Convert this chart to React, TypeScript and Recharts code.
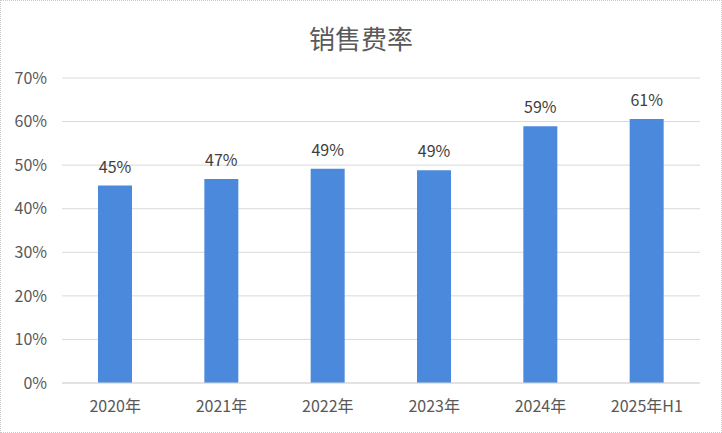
import { BarChart, Bar, XAxis, YAxis, CartesianGrid, LabelList } from "recharts";

const categories = ["2020年", "2021年", "2022年", "2023年", "2024年", "2025年H1"];
const salesExpenseRate = [45.3, 46.8, 49.2, 48.8, 58.9, 60.6];
const yTicks = [0, 10, 20, 30, 40, 50, 60, 70];

const data = categories.map((name, i) => ({ name, rate: salesExpenseRate[i] }));

const font = '"Noto Sans CJK SC", "Noto Sans", sans-serif';
const textColor = "#595959";

export default function App() {
  return (
    <div style={{ position: "fixed", left: 0, top: 0, width: 722, height: 433, background: "#fff", fontFamily: font }}>
      <div
        style={{
          position: "absolute",
          left: 0,
          top: 18,
          width: 722,
          textAlign: "center",
          fontSize: 26,
          lineHeight: "40px",
          color: textColor,
        }}
      >
        销售费率
      </div>
      <BarChart
        width={722}
        height={433}
        data={data}
        margin={{ top: 78, right: 22, left: 0, bottom: 20 }}
      >
        <CartesianGrid vertical={false} stroke="#d9d9d9" />
        <XAxis
          dataKey="name"
          height={30}
          tickLine={false}
          axisLine={{ stroke: "#d9d9d9" }}
          tickMargin={12}
          tick={{ fill: textColor, fontSize: 16, fontFamily: font }}
        />
        <YAxis
          width={62}
          domain={[0, 70]}
          ticks={yTicks}
          axisLine={false}
          tickLine={false}
          tickMargin={9}
          tickFormatter={(v: number) => `${v}%`}
          tick={{ fill: textColor, fontSize: 16, fontFamily: font }}
        />
        <Bar dataKey="rate" fill="#4b89dc" barSize={34} isAnimationActive={false}>
          <LabelList
            dataKey="rate"
            position="top"
            offset={13}
            formatter={(v: number) => `${Math.round(v)}%`}
            style={{ fill: "#404040", fontSize: 16, fontFamily: font }}
          />
        </Bar>
      </BarChart>
      <div
        style={{
          position: "absolute",
          inset: 0,
          border: "1px dotted #c8c8c8",
          pointerEvents: "none",
        }}
      />
    </div>
  );
}
